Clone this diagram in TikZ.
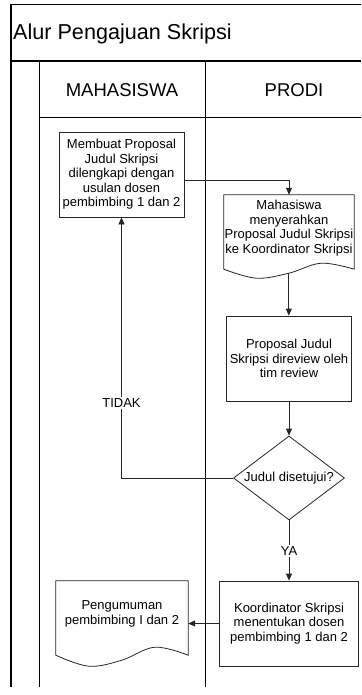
\documentclass[tikz,border=0pt]{standalone}
\usepackage{fontspec}
\setmainfont{Liberation Sans}
\usetikzlibrary{arrows.meta,shapes.geometric,calc}
\begin{document}
\begin{tikzpicture}[x=1pt,y=-1pt,
  frame/.style={line width=1.3pt,black},
  lane/.style={line width=0.9pt,black},
  body/.style={font=\fontsize{13}{14.5}\selectfont,align=center,inner sep=0pt},
  proc/.style={body,draw=black!85,line width=0.8pt,rectangle},
  doctext/.style={body,rectangle},
  docline/.style={draw=black!85,line width=0.8pt},
  decision/.style={body,draw=black!85,line width=0.8pt,diamond,aspect=1.32},
  conn/.style={draw=black!85,line width=0.8pt},
  arr/.style={conn,-{Triangle[length=7pt,width=6pt]}},
  lbl/.style={font=\fontsize{13}{14.5}\selectfont,fill=white,inner sep=1.5pt},
  head/.style={font=\fontsize{18.5}{22}\selectfont,anchor=base}]
\useasboundingbox[fill=white] (0,0) rectangle (361,695);

% pool frame and lanes
\draw[frame] (361,4.5) -- (11,4.5) -- (11,687);
\draw[frame] (11,61) -- (361,61);
\draw[lane] (39,61) -- (39,687);
\draw[lane] (205,61) -- (205,687);
\draw[lane] (39,117) -- (361,117);

\node[font=\fontsize{21.6}{26}\selectfont,anchor=base west,inner sep=0pt] (title) at (13,39.5) {Alur Pengajuan Skripsi};
\node[head] (hmhs) at (122,96.5) {MAHASISWA};
\node[head] (hprodi) at (294,96.5) {PRODI};

% shapes
\node[proc,minimum width=125pt,minimum height=85pt] (b1) at (121.5,174.5)
  {Membuat Proposal\\Judul Skripsi\\dilengkapi dengan\\usulan dosen\\pembimbing 1 dan 2};

\node[doctext,minimum width=130pt,minimum height=66pt] (d2) at (289,228)
  {Mahasiswa\\menyerahkan\\Proposal Judul Skripsi\\ke Koordinator Skripsi};
\coordinate (d2L) at ([yshift=-8pt]d2.south west);
\coordinate (d2R) at ([yshift=-8pt]d2.south east);
\coordinate (d2w) at ($(d2L)+(65,4)$);
\draw[docline] (d2.north west) -- (d2.north east) -- (d2R)
  -- plot[smooth,tension=0.6] coordinates {(d2R) ($(d2L)+(97.5,-6)$) (d2w) ($(d2L)+(32.5,9)$) (d2L)} -- cycle;

\node[proc,minimum width=125pt,minimum height=85pt] (b3) at (289,358.5)
  {Proposal Judul\\Skripsi direview oleh\\tim review};

\node[decision,minimum width=111pt,minimum height=84pt] (dec) at (289,478) {Judul disetujui?};

\node[proc,minimum width=139pt,minimum height=85pt] (b5) at (289,623.5)
  {Koordinator Skripsi\\menentukan dosen\\pembimbing 1 dan 2};

\node[doctext,minimum width=132pt,minimum height=66pt] (d6) at (122,614)
  {Pengumuman\\pembimbing I dan 2};
\coordinate (d6L) at ([yshift=-8pt]d6.south west);
\coordinate (d6R) at ([yshift=-8pt]d6.south east);
\draw[docline] (d6.north west) -- (d6.north east) -- (d6R)
  -- plot[smooth,tension=0.6] coordinates {(d6R) ($(d6L)+(99,-8)$) ($(d6L)+(66,5)$) ($(d6L)+(33,11)$) (d6L)} -- cycle;

% connectors
\draw[arr] ([yshift=-5.5pt]b1.east) -| (d2.north);
\draw[arr] (d2w) -- (d2w |- b3.north);
\draw[arr] (b3.south) -- (dec.north);
\draw[arr] (dec.west) -| node[lbl,pos=0.644] {TIDAK} (b1.south);
\draw[arr] (dec.south) -- node[lbl,pos=0.51] {YA} (b5.north);
\draw[arr] (b5.west) -- (b5.west -| d6.east);
\end{tikzpicture}
\end{document}
